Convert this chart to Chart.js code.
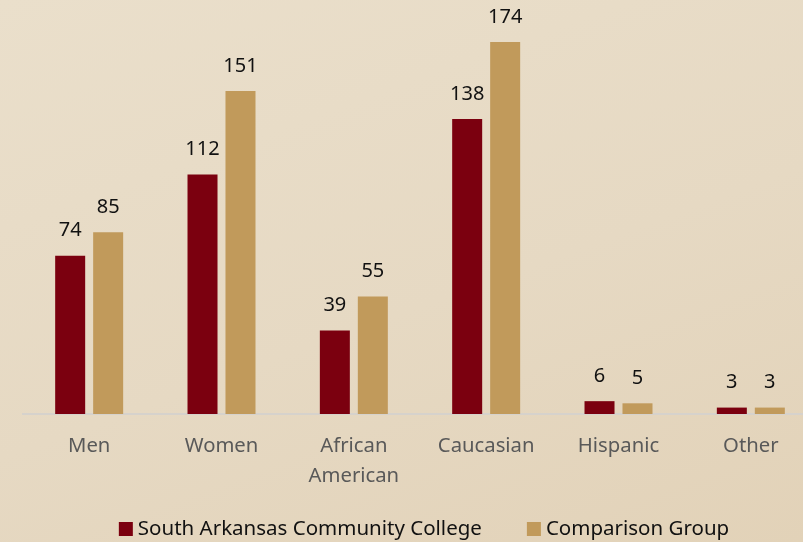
<!DOCTYPE html>
<html>
<head>
<meta charset="utf-8">
<script src="https://cdn.jsdelivr.net/npm/chart.js@4"></script>
<style>
  html, body { margin: 0; padding: 0; width: 803px; height: 542px; overflow: hidden; }
  body { background: linear-gradient(160deg, #eadfcb 0%, #e6d9c3 55%, #e2d2b8 100%); }
  canvas { display: block; }
</style>
</head>
<body>
<canvas id="chart" width="840" height="542"></canvas>
<script>
const categories = ['Men', 'Women', ['African', 'American'], 'Caucasian', 'Hispanic', 'Other'];
const sacc = [74, 112, 39, 138, 6, 3];
const comparison = [85, 151, 55, 174, 5, 3];
const seriesNames = ['South Arkansas Community College', 'Comparison Group'];
const seriesColors = ['#7b000f', '#c19a5b'];

const FONT = '"Noto Sans", "Open Sans", sans-serif';

// 棒の上に数値を描く
const valueLabels = {
  id: 'valueLabels',
  afterDatasetsDraw(chart) {
    const ctx = chart.ctx;
    ctx.save();
    ctx.font = '20px ' + FONT;
    ctx.fillStyle = '#111';
    ctx.textAlign = 'center';
    ctx.textBaseline = 'middle';
    chart.data.datasets.forEach((ds, i) => {
      chart.getDatasetMeta(i).data.forEach((bar, j) => {
        ctx.fillText(ds.data[j], bar.x, bar.y - 25);
      });
    });
    ctx.restore();
  }
};

// 凡例は自前で描く (間隔を元の図に合わせるため)
const bottomLegend = {
  id: 'bottomLegend',
  afterDraw(chart) {
    const ctx = chart.ctx;
    const box = 14, gap = 5, itemGap = 45;
    ctx.save();
    ctx.font = '20.5px ' + FONT;
    const widths = chart.data.datasets.map(ds => ctx.measureText(ds.label).width);
    const total = widths.reduce((s, w) => s + box + gap + w, 0) + itemGap * (widths.length - 1);
    let x = (chart.chartArea.left + chart.chartArea.right) / 2 + 4 - total / 2;
    const y = 529;
    ctx.textBaseline = 'middle';
    chart.data.datasets.forEach((ds, i) => {
      ctx.fillStyle = ds.backgroundColor;
      ctx.fillRect(x, y - box / 2, box, box);
      ctx.fillStyle = '#111';
      ctx.fillText(ds.label, x + box + gap, y);
      x += box + gap + widths[i] + itemGap;
    });
    ctx.restore();
  }
};

new Chart(document.getElementById('chart'), {
  type: 'bar',
  data: {
    labels: categories,
    datasets: [
      { label: seriesNames[0], data: sacc, backgroundColor: seriesColors[0] },
      { label: seriesNames[1], data: comparison, backgroundColor: seriesColors[1] }
    ]
  },
  options: {
    responsive: false,
    animation: false,
    categoryPercentage: 0.574,
    barPercentage: 0.79,
    layout: { padding: { left: 23, right: 23, top: 0, bottom: 0 } },
    scales: {
      x: {
        afterFit: scale => { scale.height = 128; },
        grid: { display: false, drawTicks: false },
        border: { display: true, color: '#d6d2cc', width: 2 },
        ticks: { color: '#595959', padding: 18, font: { family: FONT, size: 20.3, lineHeight: 1.45 } }
      },
      y: {
        display: false,
        min: 0,
        max: 193.6
      }
    },
    plugins: {
      legend: { display: false },
      tooltip: { enabled: false }
    }
  },
  plugins: [valueLabels, bottomLegend]
});
</script>
</body>
</html>
